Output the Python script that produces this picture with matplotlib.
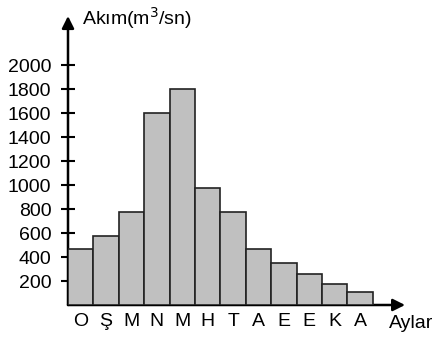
import matplotlib.pyplot as plt
import matplotlib as mpl
mpl.rcParams['font.family'] = ['Liberation Sans', 'DejaVu Sans']

# monthly flow (m3/s), hydrological year starting in October
months = ['O', 'Ş', 'M', 'N', 'M', 'H', 'T', 'A', 'E', 'E', 'K', 'A']
flow = [470, 575, 775, 1600, 1800, 975, 775, 465, 350, 260, 175, 105]
yticks = [200, 400, 600, 800, 1000, 1200, 1400, 1600, 1800, 2000]

fig = plt.figure(figsize=(4.36, 3.40), dpi=100)
ax = fig.add_axes([68 / 436, 35 / 340, 352 / 436, 295 / 340])
ax.set_xlim(0, 352 / 25.4)
ax.set_ylim(0, 295 / 0.12)

x = [i + 0.5 for i in range(len(months))]
ax.bar(x, flow, width=1.0, color='#c0c0c0', edgecolor='#222222', lw=1.2, zorder=2)

for s in ax.spines.values():
    s.set_visible(False)

# axes with arrows
ax.annotate('', xy=(0, 2408), xytext=(0, 0),
            arrowprops=dict(arrowstyle='-|>', color='black', lw=1.8,
                            mutation_scale=18, shrinkA=0, shrinkB=0),
            annotation_clip=False, zorder=1)
ax.annotate('', xy=(13.27, 0), xytext=(0, 0),
            arrowprops=dict(arrowstyle='-|>', color='black', lw=1.8,
                            mutation_scale=18, shrinkA=0, shrinkB=0),
            annotation_clip=False, zorder=1)

ax.set_yticks(yticks)
ax.set_yticklabels([str(v) for v in yticks])
ax.tick_params(axis='y', direction='inout', length=10, width=1.5, pad=7,
               labelsize=14)
ax.set_xticks(x)
ax.set_xticklabels(months)
ax.tick_params(axis='x', length=0, pad=6, labelsize=14)

ax.text(0.55, 2395, 'Akım(m$^3$/sn)', fontsize=14, ha='left', va='center',
        clip_on=False)
ax.text(14.4, -155, 'Aylar', fontsize=14, ha='right', va='center',
        clip_on=False)

fig.savefig('out.png', dpi=100)
